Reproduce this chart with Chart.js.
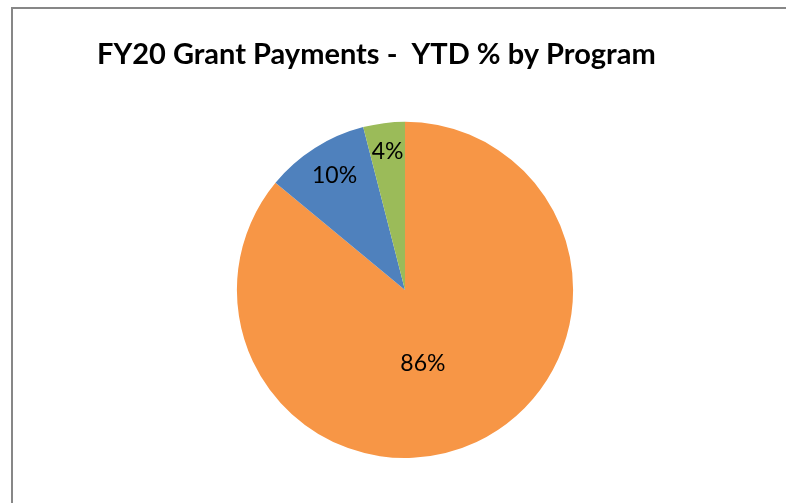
<!DOCTYPE html>
<html>
<head>
<meta charset="utf-8">
<script src="https://cdn.jsdelivr.net/npm/chart.js@4"></script>
<style>
  html, body { margin: 0; padding: 0; background: #fff; overflow: hidden; }
  #frame {
    position: absolute; left: 11px; top: 7px;
    width: 820px; height: 540px;
    border: 2px solid #878787; box-sizing: border-box;
  }
  #wrap { position: absolute; left: 0; top: 0; width: 786px; height: 503px; }
</style>
</head>
<body>
<div id="frame"></div>
<div id="wrap"><canvas id="myChart" width="786" height="503"></canvas></div>
<script>
const programs = ["Program A", "Program B", "Program C"];
const shares = [86, 10, 4];
const colours = ["#F79646", "#4F81BD", "#9BBB59"];
// where each % label sits: fraction of the radius, and turn from the mid angle (deg)
const labelRadius = [0.45, 0.80, 0.83];
const labelTurn = [11.5, 0.8, 0];

const ctx = document.getElementById("myChart").getContext("2d");

const pctLabels = {
    id: "pctLabels",
    afterDatasetsDraw(chart) {
        let c = chart.ctx;
        let arcs = chart.getDatasetMeta(0).data;
        c.save();
        c.font = "23px Lato";
        c.fillStyle = "#000";
        c.textAlign = "center";
        c.textBaseline = "middle";
        for (let i = 0; i < arcs.length; i++) {
            let a = arcs[i];
            let mid = (a.startAngle + a.endAngle) / 2 + labelTurn[i] * Math.PI / 180;
            let r = a.outerRadius * labelRadius[i];
            c.fillText(shares[i] + "%", a.x + Math.cos(mid) * r, a.y + Math.sin(mid) * r);
        }
        c.restore();
    }
};

new Chart(ctx, {
    type: "pie",
    data: {
        labels: programs,
        datasets: [{
            data: shares,
            backgroundColor: colours,
            borderWidth: 0,
        }],
    },
    options: {
        responsive: false,
        animation: false,
        layout: {
            padding: { left: 97, right: 73, top: 0, bottom: 45 },
        },
        plugins: {
            legend: { display: false },
            tooltip: { enabled: false },
            title: {
                display: true,
                text: "FY20 Grant Payments -  YTD % by Program",
                align: "start",
                color: "#000",
                font: { family: "Lato", size: 29, weight: "bold", lineHeight: 1.2 },
                padding: { top: 37, bottom: 50 },
            },
        },
    },
    plugins: [pctLabels],
});
</script>
</body>
</html>
